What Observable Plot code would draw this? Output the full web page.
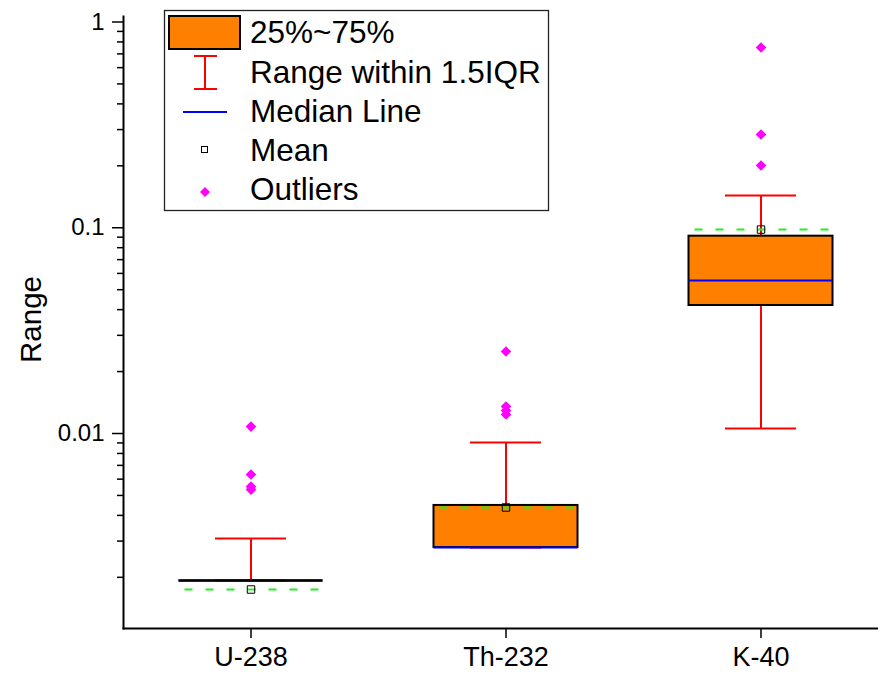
<!DOCTYPE html>
<html>
<head>
<meta charset="utf-8">
<script src="https://cdn.jsdelivr.net/npm/d3@7"></script>
<script src="https://cdn.jsdelivr.net/npm/@observablehq/plot@0.6"></script>
<style>
  html, body { margin: 0; padding: 0; background: #fff; }
  #wrap { position: relative; width: 878px; height: 673px; font-family: "Liberation Sans", Arial, sans-serif; }
  #legend { position: absolute; left: 0; top: 0; }
</style>
</head>
<body>
<div id="wrap"></div>
<script>
// ---- data ----
const categories = ["U-238", "Th-232", "K-40"];
const q1 = [0.00193, 0.00279, 0.0419];
const median = [0.00193, 0.00279, 0.0554];
const q3 = [0.00193, 0.00447, 0.0910];
const whiskerLow = [0.00193, 0.00279, 0.01057];
const whiskerHigh = [0.00309, 0.00904, 0.1434];
const mean = [0.001745, 0.00437, 0.0980];
const outlierCategory = ["U-238", "U-238", "U-238", "U-238", "Th-232", "Th-232", "Th-232", "Th-232", "K-40", "K-40", "K-40"];
const outlierValue = [0.01081, 0.00632, 0.00552, 0.00534, 0.02503, 0.01353, 0.01293, 0.01237, 0.7516, 0.2839, 0.2007];
const yDomain = [0.001128, 1.0635];
const yTickValues = [0.01, 0.1, 1];
const yTickLabels = ["0.01", "0.1", "1"];
const yLabel = "Range";
const legendLabels = ["25%~75%", "Range within 1.5IQR", "Median Line", "Mean", "Outliers"];

// ---- tables ----
const boxes = categories.map((c, i) => ({
  cat: c, q1: q1[i], median: median[i], q3: q3[i],
  lo: whiskerLow[i], hi: whiskerHigh[i], mean: mean[i]
}));
const outliers = outlierCategory.map((c, i) => ({cat: c, v: outlierValue[i]}));
const minorTicks = [];
for (let e = -3; e <= -1; e++) for (let m = 2; m <= 9; m++) {
  const v = m * Math.pow(10, e);
  if (v >= yDomain[0] && v <= yDomain[1]) minorTicks.push(+v.toPrecision(3));
}

const boxInset = 55.5;
const capInset = 92;

const chart = Plot.plot({
  width: 878,
  height: 673,
  marginLeft: 123,
  marginRight: -10,
  marginTop: 16,
  marginBottom: 45,
  style: {fontFamily: "'Liberation Sans', Arial, sans-serif", background: "white"},
  x: {domain: categories, padding: 0},
  y: {type: "log", domain: yDomain},
  marks: [
    // whiskers
    Plot.ruleX(boxes, {x: "cat", y1: "lo", y2: "hi", stroke: "#ff0000", strokeWidth: 2}),
    Plot.tickY(boxes, {x: "cat", y: "hi", stroke: "#ff0000", strokeWidth: 2, insetLeft: capInset, insetRight: capInset}),
    Plot.tickY(boxes, {x: "cat", y: "lo", stroke: "#ff0000", strokeWidth: 2, insetLeft: capInset, insetRight: capInset}),
    // boxes
    Plot.barY(boxes, {x: "cat", y1: "q1", y2: "q3", fill: "#ff8000", stroke: "#000", strokeWidth: 2, insetLeft: boxInset, insetRight: boxInset}),
    Plot.tickY(boxes, {x: "cat", y: "median", stroke: "#0000ff", strokeWidth: 2, insetLeft: boxInset, insetRight: boxInset}),
    Plot.tickY(boxes.filter(d => d.q1 === d.q3), {x: "cat", y: "q1", stroke: "#000", strokeWidth: 2.5, insetLeft: boxInset, insetRight: boxInset}),
    // mean line + marker
    Plot.tickY(boxes, {x: "cat", y: "mean", stroke: "#22ee22", strokeWidth: 2, strokeDasharray: "8,13", strokeDashoffset: -2, insetLeft: boxInset + 4, insetRight: boxInset}),
    Plot.dot(boxes, {x: "cat", y: "mean", symbol: "square", r: 4.2, fill: "none", stroke: "#000", strokeWidth: 1}),
    // outliers
    Plot.dot(outliers, {x: "cat", y: "v", symbol: "diamond2", r: 4.8, fill: "#ff00ff", stroke: "none"}),
    // axes
    Plot.axisY(minorTicks, {tickSize: 6, tickFormat: () => "", label: null, strokeWidth: 1.5}),
    Plot.axisY(yTickValues, {tickSize: 11, tickPadding: 8, fontSize: 24, strokeWidth: 1.5,
      tickFormat: (d) => yTickLabels[yTickValues.indexOf(d)],
      label: null}),
    Plot.axisX({tickSize: 10, tickPadding: 8, fontSize: 27, label: null, strokeWidth: 1.5}),
    Plot.text([yLabel], {text: (d) => d, frameAnchor: "left", textAnchor: "middle", rotate: -90, dx: -92, dy: -3, fontSize: 29.5, fill: "#000"}),
    Plot.frame({anchor: "left", strokeWidth: 2}),
    Plot.frame({anchor: "bottom", strokeWidth: 2})
  ]
});
document.getElementById("wrap").appendChild(chart);

// ---- legend overlay ----
const lg = d3.select("#wrap").append("svg").attr("id", "legend")
  .attr("width", 878).attr("height", 673)
  .style("font-family", "'Liberation Sans', Arial, sans-serif");
lg.append("rect").attr("x", 164.5).attr("y", 10.5).attr("width", 384).attr("height", 200)
  .attr("fill", "white").attr("stroke", "#222").attr("stroke-width", 1.3);
const rowY = [32, 72, 111, 150, 189];
// swatch
lg.append("rect").attr("x", 169).attr("y", 16).attr("width", 71).attr("height", 33)
  .attr("fill", "#ff8000").attr("stroke", "#000").attr("stroke-width", 2);
// whisker symbol
lg.append("line").attr("x1", 205).attr("x2", 205).attr("y1", 56).attr("y2", 89).attr("stroke", "#ff0000").attr("stroke-width", 2);
lg.append("line").attr("x1", 194).attr("x2", 217).attr("y1", 56).attr("y2", 56).attr("stroke", "#ff0000").attr("stroke-width", 2);
lg.append("line").attr("x1", 194).attr("x2", 217).attr("y1", 89).attr("y2", 89).attr("stroke", "#ff0000").attr("stroke-width", 2);
// median
lg.append("line").attr("x1", 183).attr("x2", 227).attr("y1", 112).attr("y2", 112).attr("stroke", "#0000ff").attr("stroke-width", 2);
// mean square
lg.append("rect").attr("x", 201.5).attr("y", 146.5).attr("width", 6).attr("height", 6).attr("fill", "white").attr("stroke", "#000").attr("stroke-width", 1);
// outlier diamond
lg.append("path").attr("d", "M205,187 L210,192 L205,197 L200,192 Z").attr("fill", "#ff00ff");
legendLabels.forEach((t, i) => {
  lg.append("text").attr("x", 250).attr("y", rowY[i]).attr("dy", "0.36em")
    .attr("font-size", 31.5).attr("fill", "#000").text(t);
});
</script>
</body>
</html>
